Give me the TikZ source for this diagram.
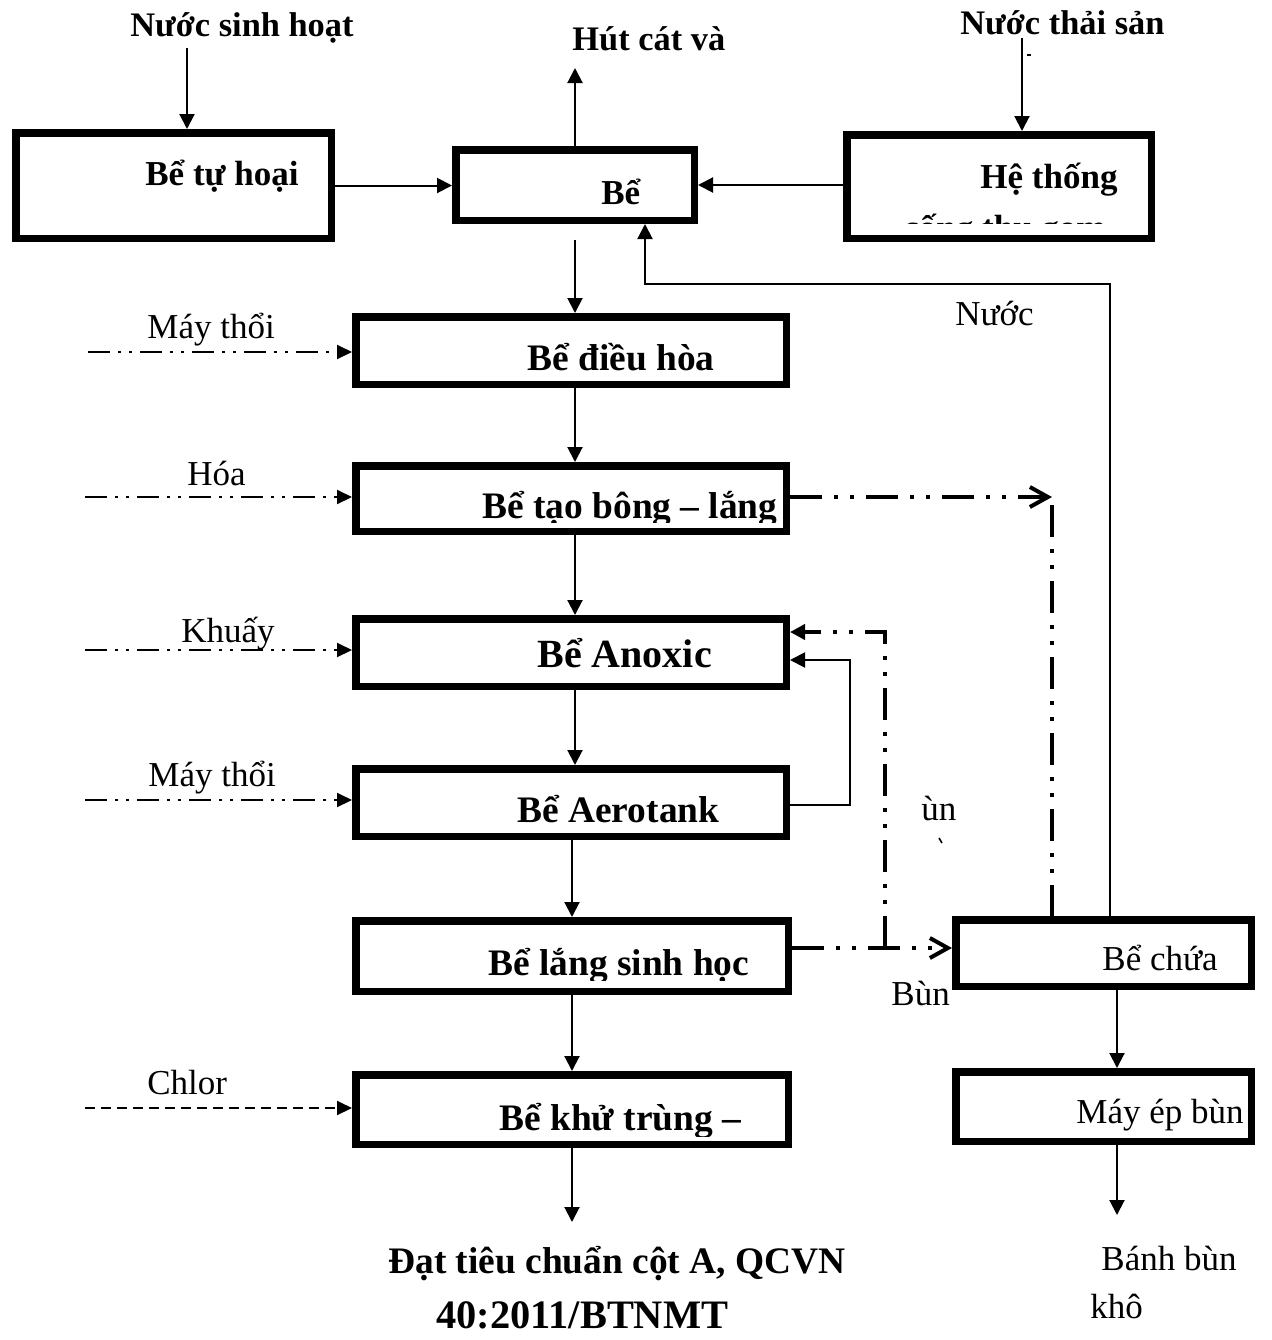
\documentclass[tikz,border=0pt]{standalone}
\usepackage{fontspec}
\setmainfont{Liberation Serif}
\usetikzlibrary{arrows.meta,calc}
\tikzset{
	tank/.style={draw, line width=3.75pt, inner sep=0pt},
	lbl/.style={inner sep=0pt, anchor=base west, font=\fontsize{17.5}{21}\selectfont},
	blbl/.style={lbl, font=\fontsize{17.5}{21}\selectfont\bfseries},
	tlbl/.style={lbl, font=\fontsize{17.2}{21}\selectfont\bfseries},
	mlbl/.style={lbl, font=\fontsize{18.7}{22}\selectfont\bfseries},
	flow/.style={line width=1pt, -{Triangle[length=7.5pt,width=7.5pt]}},
	feed/.style={line width=1pt, dash pattern=on 11pt off 4pt on 1.5pt off 4pt on 1.5pt off 4pt, -{Triangle[length=7.5pt,width=7pt]}},
	chlorfeed/.style={line width=1pt, dash pattern=on 5pt off 3pt, -{Triangle[length=7.5pt,width=7pt]}},
	sludge/.style={line width=2pt, dash pattern=on 16pt off 6pt on 2pt off 6pt on 2pt off 6pt},
	sludgetip/.style={-{Straight Barb[length=9pt,width=10pt]}}
}
% label of a tank, cut off at the lower edge of the box
\newcommand\tanklabel[5][10]{%
	\begin{scope}
		\clip ($(#2.south west)+(0,-#1)$) rectangle (#2.north east);
		\node[#3] at (#4) {#5};
	\end{scope}}

\begin{document}
\begin{tikzpicture}[x=0.5pt, y=-0.5pt]
		%%%%% START %%%%%
		\useasboundingbox (0,0) rectangle (1271,1340);
		
		% tanks
		\node[tank, minimum width=157.75pt, minimum height=52.75pt] (hoai) at (173.5,185.5) {};
		\node[tank, minimum width=119.25pt, minimum height=35.25pt] (be) at (575,185) {};
		\node[tank, minimum width=152.25pt, minimum height=51.75pt] (heth) at (999,186.5) {};
		\node[tank, minimum width=215.25pt, minimum height=33.75pt] (dieuhoa) at (571,350.5) {};
		\node[tank, minimum width=215.25pt, minimum height=32.75pt] (taobong) at (571,498.5) {};
		\node[tank, minimum width=215.25pt, minimum height=33.75pt] (anoxic) at (571,652.5) {};
		\node[tank, minimum width=215.25pt, minimum height=33.75pt] (aerotank) at (571,802.5) {};
		\node[tank, minimum width=216.25pt, minimum height=35.25pt] (langsh) at (572,956) {};
		\node[tank, minimum width=216.25pt, minimum height=34.75pt] (khutrung) at (572,1109.5) {};
		\node[tank, minimum width=147.75pt, minimum height=33.25pt] (chua) at (1103.5,953) {};
		\node[tank, minimum width=147.75pt, minimum height=34.75pt] (mayep) at (1103.5,1106.5) {};
		
		\tanklabel{hoai}{blbl}{145,185}{Bể tự hoại}
		\tanklabel{be}{blbl}{601,204}{Bể}
		\tanklabel[19]{heth}{blbl}{980,188}{Hệ thống}
		\tanklabel[19]{heth}{blbl}{903,239}{cống thu gom}
		\tanklabel{dieuhoa}{mlbl}{527,370}{Bể điều hòa}
		\tanklabel[13]{taobong}{mlbl}{482,518}{Bể tạo bông – lắng}
		\tanklabel{anoxic}{mlbl, font=\fontsize{20}{24}\selectfont\bfseries}{537,667}{Bể Anoxic}
		\tanklabel{aerotank}{mlbl}{517,822}{Bể Aerotank}
		\tanklabel[15]{langsh}{mlbl}{488,975}{Bể lắng sinh học}
		\tanklabel[12]{khutrung}{mlbl}{499,1130}{Bể khử trùng –}
		\tanklabel{chua}{lbl}{1102,970}{Bể chứa}
		\tanklabel{mayep}{lbl}{1076,1123}{Máy ép bùn}
		
		% free texts
		\node[tlbl] (tsinhhoat) at (130,36) {Nước sinh hoạt};
		\node[tlbl] (thutcat) at (572,50) {Hút cát và};
		\node[tlbl] (tthaisan) at (960,34) {Nước thải sản};
		\draw[line width=0.6pt] (1027,55) -- (1031,55);
		\node[mlbl] (tdat1) at (388,1273) {Đạt tiêu chuẩn cột A, QCVN};
		\node[mlbl, font=\fontsize{20.2}{24}\selectfont\bfseries] (tdat2) at (436,1328) {40:2011/BTNMT};
		\node[lbl] (tbanh1) at (1101,1270) {Bánh bùn};
		\node[lbl] (tbanh2) at (1090,1318) {khô};
		\node[lbl] (tnuoc) at (955,325) {Nước};
		\node[lbl] (tkhi1) at (147,338) {Máy thổi};
		\node[lbl] (thoa) at (187,485) {Hóa};
		\node[lbl] (tkhuay) at (181,642) {Khuấy};
		\node[lbl] (tkhi2) at (148,786) {Máy thổi};
		\node[lbl] (tchlor) at (147,1094) {Chlor};
		\node[lbl] (tun) at (921,820) {ùn};
		\node[lbl] (tbun) at (891,1005) {Bùn};
		\draw[line width=0.8pt] (939,838) -- (942,843);
		
		% free ends and corners
		\coordinate (sinhhoat) at (187,48);
		\coordinate (thaisan) at (1022,38);
		\coordinate (hutcat) at (575,68);
		\coordinate (beout) at (575,240);
		\coordinate (nuocA) at (1110,284);
		\coordinate (nuocB) at (645,284);
		\coordinate (ketqua) at (572,1222);
		\coordinate (banh) at (1117,1215);
		\coordinate (bongj) at (1052,497);
		\coordinate (aeroj) at (850,805);
		\coordinate (bunj) at (885,948);
		\coordinate (khi1) at (88,352);
		\coordinate (hoachat) at (85,497);
		\coordinate (khuay) at (85,650);
		\coordinate (khi2) at (85,800);
		\coordinate (chlor) at (85,1108);
		
		% water line
		\draw[flow] (sinhhoat) -- (sinhhoat |- hoai.north);
		\draw[flow] (thaisan) -- (thaisan |- heth.north);
		\draw[flow] (hoai.east) -- (hoai.east -| be.west);
		\draw[flow] (heth.west |- be.east) -- (be.east);
		\draw[flow] (be.north) -- (hutcat);
		\draw[flow] (beout) -- (beout |- dieuhoa.north);
		\draw[flow] ([xshift=2pt]dieuhoa.south) -- ([xshift=2pt]taobong.north);
		\draw[flow] ([xshift=2pt]taobong.south) -- ([xshift=2pt]anoxic.north);
		\draw[flow] ([xshift=2pt]anoxic.south) -- ([xshift=2pt]aerotank.north);
		\draw[flow] (aerotank.south -| langsh.north) -- (langsh.north);
		\draw[flow] (langsh.south) -- (khutrung.north);
		\draw[flow] (khutrung.south) -- (ketqua);
		\draw[flow] (chua.north -| nuocA) -- (nuocA) -- (nuocB) -- (nuocB |- be.south);
		\draw[flow] (aerotank.east |- aeroj) -- (aeroj) |- ([yshift=-3.75pt]anoxic.east);
		
		% sludge line
		\draw[sludge, sludgetip] (taobong.east |- bongj) -- (bongj);
		\draw[sludge] ([yshift=-4pt]bongj) -- (bongj |- chua.north);
		\draw[sludge, sludgetip] (langsh.east |- bunj) -- (chua.west |- bunj);
		\draw[sludge, -{Triangle[length=7.5pt,width=7.5pt]}] (bunj) |- ([yshift=10.25pt]anoxic.east);
		\draw[flow] ([xshift=6.75pt]chua.south) -- ([xshift=6.75pt]mayep.north);
		\draw[flow] (mayep.south -| banh) -- (banh);
		
		% air and chemicals
		\draw[feed] (khi1) -- (khi1 -| dieuhoa.west);
		\draw[feed] (hoachat) -- (hoachat -| taobong.west);
		\draw[feed] (khuay) -- (khuay -| anoxic.west);
		\draw[feed] (khi2) -- (khi2 -| aerotank.west);
		\draw[chlorfeed] (chlor) -- (chlor -| khutrung.west);
		
		%%%%% END %%%%%
\end{tikzpicture}
\end{document}
